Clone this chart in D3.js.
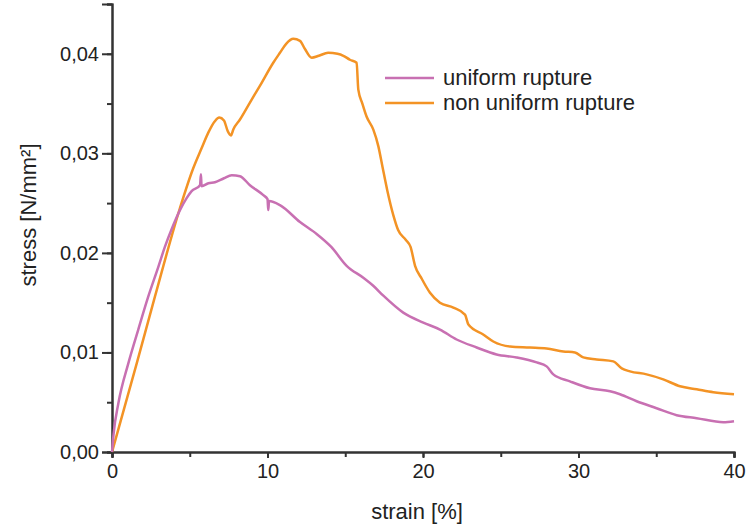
<!DOCTYPE html>
<html><head><meta charset="utf-8">
<script src="https://cdn.jsdelivr.net/npm/d3@7"></script>
<style>body{margin:0;background:#fff}svg{display:block;font-family:"Liberation Sans",Arial,sans-serif}</style>
</head><body><svg id="c" width="746" height="526"></svg>
<script>
const xTicks = [0, 10, 20, 30, 40];
const yTicks = [0, 0.01, 0.02, 0.03, 0.04];
const seriesNames = ["uniform rupture", "non uniform rupture"];
const uniformStrain = [0,0.1,0.41,1.05,1.69,2.33,2.98,3.4,3.84,4.37,4.8,5.12,5.66,5.72,5.76,6.2,6.62,7.2,7.7,8.23,8.87,9.73,10.0,10.05,10.1,10.8,12.09,13.16,14.1,15.09,16.16,16.8,17.45,18.73,20.02,21.09,22.16,23.45,24.73,26.02,27.31,27.95,28.38,29.45,30.74,32.03,32.67,33.74,35.02,36.31,37.6,39.31,40];
const uniformStress = [0,0.0018,0.0049,0.0089,0.0123,0.0156,0.0186,0.0206,0.0224,0.0243,0.0255,0.0262,0.0268,0.0279,0.0267,0.0270,0.0271,0.0275,0.0278,0.0277,0.0268,0.0258,0.0254,0.0243,0.0252,0.0248,0.0231,0.0219,0.0206,0.0187,0.0175,0.0167,0.0157,0.0140,0.0130,0.0123,0.0113,0.0105,0.0098,0.0095,0.0090,0.0086,0.0078,0.0071,0.0064,0.0061,0.0058,0.0051,0.0044,0.0037,0.0034,0.0030,0.0031];
const nonUniformStrain = [0,1.59,2.76,4.37,5.2,5.76,6.2,6.6,6.9,7.2,7.45,7.65,7.8,8.23,8.87,9.52,10.37,10.8,11.2,11.66,12.09,12.4,12.84,13.3,13.9,14.5,14.88,15.3,15.73,15.84,16.1,16.37,16.8,17.13,17.4,17.7,18.09,18.4,18.9,19.2,19.49,19.92,20.45,21.09,21.95,22.7,22.92,23.87,24.52,25.6,26.88,27.95,29.02,29.77,30.31,31.17,32.24,32.78,33.31,34.38,35.45,36.53,37.6,38.67,40];
const nonUniformStress = [0,0.0089,0.0156,0.0245,0.0284,0.0305,0.0321,0.0332,0.0336,0.0333,0.0322,0.0318,0.0324,0.0334,0.0351,0.0368,0.0391,0.0401,0.0410,0.0415,0.0413,0.0405,0.0396,0.0398,0.0401,0.0400,0.0398,0.0394,0.0391,0.0364,0.0350,0.0337,0.0324,0.0307,0.0286,0.0263,0.0238,0.0223,0.0213,0.0206,0.0187,0.0174,0.0160,0.0150,0.0145,0.0138,0.0128,0.0118,0.0111,0.0106,0.0105,0.0104,0.0101,0.0100,0.0095,0.0093,0.0091,0.0084,0.0081,0.0078,0.0073,0.0066,0.0063,0.0060,0.0058];
const colors = ["#c870b2", "#f39325"];

const svg = d3.select("#c");
const x = d3.scaleLinear().domain([0, 40]).range([112, 734]);
const y = d3.scaleLinear().domain([0, 0.045]).range([452, 4]);
const fmt = v => d3.format(".2f")(v).replace(".", ",");

const gx = svg.append("g").attr("transform", "translate(0,452)");
gx.call(d3.axisBottom(x).tickValues(d3.range(0, 41, 5)).tickSize(5).tickFormat(""));
gx.append("g").call(d3.axisBottom(x).tickValues(xTicks).tickSize(6).tickPadding(6).tickFormat(d3.format("d")));
const gy = svg.append("g").attr("transform", "translate(112,0)");
gy.call(d3.axisLeft(y).tickValues(d3.range(0, 0.0451, 0.005)).tickSize(5).tickFormat(""));
gy.append("g").call(d3.axisLeft(y).tickValues(yTicks).tickSize(10).tickPadding(3).tickFormat(fmt));
svg.selectAll(".domain").attr("stroke", "#333").attr("stroke-width", 2);
svg.selectAll(".tick line").attr("stroke", "#333").attr("stroke-width", 2);
svg.selectAll(".tick text").attr("font-size", 20).attr("fill", "#222").attr("font-family", "Liberation Sans, Arial, sans-serif");

const data = [
  d3.zip(uniformStrain, uniformStress),
  d3.zip(nonUniformStrain, nonUniformStress)
];
const line = d3.line().x(d => x(d[0])).y(d => y(d[1])).curve(d3.curveMonotoneX);
[1, 0].forEach(i => {
  svg.append("path").datum(data[i]).attr("d", line)
    .attr("fill", "none").attr("stroke", colors[i]).attr("stroke-width", 2.5)
    .attr("stroke-linejoin", "round");
});

seriesNames.forEach((n, i) => {
  const yy = 78 + i * 25;
  svg.append("line").attr("x1", 385).attr("x2", 434).attr("y1", yy).attr("y2", yy)
    .attr("stroke", colors[i]).attr("stroke-width", 2.5);
  svg.append("text").attr("x", 443).attr("y", yy).attr("dy", "0.33em")
    .attr("font-size", 22).attr("fill", "#222").text(n);
});

svg.append("text").attr("x", 417).attr("y", 519).attr("text-anchor", "middle")
  .attr("font-size", 22).attr("fill", "#222").text("strain [%]");
svg.append("text").attr("transform", "translate(36,215) rotate(-90)").attr("text-anchor", "middle")
  .attr("font-size", 22).attr("fill", "#222").text("stress [N/mm²]");
</script></body></html>
